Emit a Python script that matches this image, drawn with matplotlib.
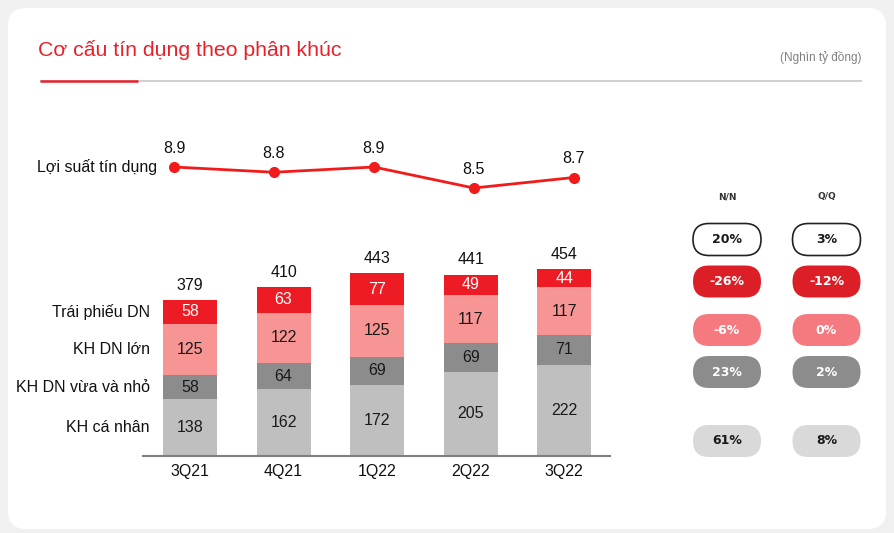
import matplotlib
matplotlib.use("Agg")
import matplotlib.pyplot as plt
from matplotlib.patches import FancyBboxPatch
import numpy as np

plt.rcParams['font.family'] = ['Liberation Sans', 'DejaVu Sans']

# data
quarters = ['3Q21', '4Q21', '1Q22', '2Q22', '3Q22']
ca_nhan = [138, 162, 172, 205, 222]
dn_vua_nho = [58, 64, 69, 69, 71]
dn_lon = [125, 122, 125, 117, 117]
trai_phieu = [58, 63, 77, 49, 44]
totals = [379, 410, 443, 441, 454]
loi_suat = [8.9, 8.8, 8.9, 8.5, 8.7]

segment_names = ['KH cá nhân', 'KH DN vừa và nhỏ', 'KH DN lớn', 'Trái phiếu DN']
nn_changes = ['61%', '23%', '-6%', '-26%', '20%']   # bottom -> top, last = total
qq_changes = ['8%', '2%', '0%', '-12%', '3%']

seg_colors = ['#bfbfbf', '#8c8c8c', '#f79494', '#ed1c24']
seg_text = ['#1a1a1a', '#1a1a1a', '#1a1a1a', 'white']
red = '#e8202a'

W, H = 894, 533
fig = plt.figure(figsize=(W / 100, H / 100), dpi=100)
fig.patch.set_facecolor('#f0f0f0')

# background / decoration layer in pixel coordinates
bg = fig.add_axes([0, 0, 1, 1], zorder=0)
bg.set_xlim(0, W)
bg.set_ylim(H, 0)
bg.axis('off')
bg.add_patch(FancyBboxPatch((8, 8), W - 16, H - 12,
                            boxstyle='round,pad=0,rounding_size=18',
                            fc='white', ec='none'))
bg.text(38, 50, 'Cơ cấu tín dụng theo phân khúc', color=red,
        fontsize=15.3, va='center', ha='left')
bg.text(862, 58, '(Nghìn tỷ đồng)', color='#808080', fontsize=8.5,
        va='center', ha='right')
bg.plot([40, 862], [81, 81], color='#c8c8c8', lw=1.2, solid_capstyle='butt')
bg.plot([40, 138], [81, 81], color=red, lw=1.8, solid_capstyle='butt')

# change pills
pill_styles = [  # bottom -> top: (face, edge, text)
    ('#d9d9d9', 'none', '#1a1a1a'),
    ('#8c8c8c', 'none', 'white'),
    ('#f57a80', 'none', 'white'),
    ('#dc1f27', 'none', 'white'),
    ('white', '#222222', '#1a1a1a'),
]
pill_y = [441, 372, 330, 281.5, 239.5]
col_x = [727, 826.5]
for cx, head, vals in zip(col_x, ['N/N', 'Q/Q'], [nn_changes, qq_changes]):
    bg.text(cx, 197, head, fontsize=6.5, fontweight='bold', ha='center',
            va='center', color='#333333', family='DejaVu Sans')
    for y, v, (fc, ec, tc) in zip(pill_y, vals, pill_styles):
        bg.add_patch(FancyBboxPatch((cx - 34, y - 16), 68, 32,
                                    boxstyle='round,pad=0,rounding_size=16',
                                    fc=fc, ec=ec, lw=1.2))
        bg.text(cx, y, v, fontsize=9, fontweight='bold', ha='center',
                va='center', color=tc, family='DejaVu Sans')

# stacked bars
x = np.arange(len(quarters))
bw = 0.578
ax = fig.add_axes([143 / W, 1 - 456 / H, (610 - 143) / W, 206 / H], zorder=2)
ax.patch.set_alpha(0)
ax.set_xlim(-0.503, 4.49)
ax.set_ylim(0, 500)
bottom = np.zeros(len(quarters))
for vals, col, tc in zip([ca_nhan, dn_vua_nho, dn_lon, trai_phieu], seg_colors, seg_text):
    vals = np.array(vals)
    ax.bar(x, vals, bw, bottom=bottom, color=col, edgecolor='none')
    for xi, b, v in zip(x, bottom, vals):
        ax.text(xi, b + v / 2, str(v), ha='center', va='center',
                fontsize=11.5, color=tc)
    bottom += vals
for xi, t in zip(x, totals):
    ax.text(xi, t + 36, str(t), ha='center', va='center', fontsize=11.5,
            color='#111111')

# segment names at left of first bar
b0 = 0
for name, vals in zip(segment_names, [ca_nhan, dn_vua_nho, dn_lon, trai_phieu]):
    ax.text(-bw / 2 - 0.14, b0 + vals[0] / 2, name, ha='right', va='center',
            fontsize=11.5, color='#111111', clip_on=False)
    b0 += vals[0]

for s in ['top', 'right', 'left']:
    ax.spines[s].set_visible(False)
ax.spines['bottom'].set_color('#7f7f7f')
ax.spines['bottom'].set_linewidth(1.5)
ax.set_yticks([])
ax.set_xticks(x)
ax.set_xticklabels(quarters, fontsize=11.5, color='#111111')
ax.tick_params(axis='x', length=0, pad=6)

# yield line (its own x spacing, slightly wider than the bars)
lx = fig.add_axes([123.7 / W, 1 - 210 / H, 499 / W, 80 / H], zorder=2)
lx.patch.set_alpha(0)
lx.set_xlim(-0.503, 4.49)
lx.set_ylim(8.081, 9.605)
lx.axis('off')
lx.plot(x, loi_suat, color='#f21b1b', lw=2, marker='o', markersize=7,
        markerfacecolor='#f21b1b', markeredgecolor='#f21b1b')
for xi, v in zip(x, loi_suat):
    lx.text(xi, v + 0.362, f'{v}', ha='center', va='center', fontsize=11.5,
            color='#111111')
lx.text(-0.17, loi_suat[0], 'Lợi suất tín dụng', ha='right', va='center',
        fontsize=11.5, color='#111111', clip_on=False)

fig.savefig('out.png', dpi=100, facecolor=fig.get_facecolor())
